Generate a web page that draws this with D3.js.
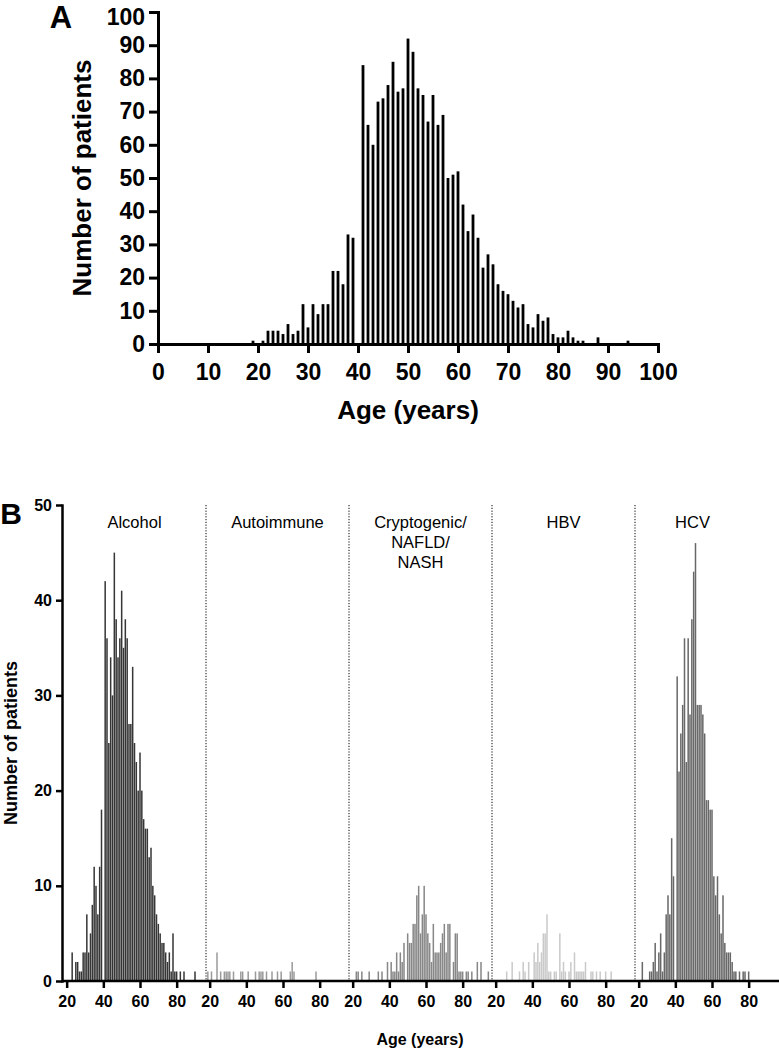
<!DOCTYPE html>
<html><head><meta charset="utf-8">
<script src="https://cdn.jsdelivr.net/npm/d3@7"></script>
<style>
body{margin:0;background:#fff}
svg text{font-family:Arial,"Liberation Sans",sans-serif}
</style>
</head><body>
<svg id="c" width="779" height="1050"></svg>
<script>
// ---------- Panel A data ----------
const ageTicksA = [0,10,20,30,40,50,60,70,80,90,100];
const countTicksA = [0,10,20,30,40,50,60,70,80,90,100];
const ageA = [19,21,22,23,24,25,26,27,28,29,30,31,32,33,34,35,36,37,38,39,
  41,42,43,44,45,46,47,48,49,50,51,52,53,54,55,56,57,58,59,60,
  61,62,63,64,65,66,67,68,69,70,71,72,73,74,75,76,77,78,79,80,
  81,82,83,84,85,88,94];
const countA = [1,1,4,4,4,3,6,3,4,12,5,12,9,12,12,22,22,18,33,32,
  84,66,60,73,74,78,85,76,77,92,88,77,75,67,75,66,69,50,51,52,
  42,34,39,32,23,27,24,18,16,15,13,11,12,6,5,9,7,8,3,2,
  2,4,2,1,1,2,1];

// ---------- Panel B data ----------
const sections = ["Alcohol","Autoimmune","Cryptogenic/NAFLD/NASH","HBV","HCV"];
const sectionLabels = [["Alcohol"],["Autoimmune"],["Cryptogenic/","NAFLD/","NASH"],["HBV"],["HCV"]];
const ageTicksB = [20,40,60,80];
const countTicksB = [0,10,20,30,40,50];

const alcoholAge = [23,25,26,27,28,29,30,31,32,33,34,35,36,37,38,39,
  41,42,43,44,45,46,47,48,49,50,51,52,53,54,55,56,57,58,59,60,
  61,62,63,64,65,66,67,68,69,70,71,72,73,74,75,76,77,78,79,80,82,84,90];
const alcoholCount = [3,2,2,1,1,3,3,7,3,5,8,12,10,7,12,18,
  42,36,25,34,30,45,38,34,36,41,35,38,36,27,27,33,25,23,20,24,
  20,17,16,16,13,14,10,9,7,6,5,4,4,3,2,3,1,5,1,1,1,1,1];

const autoimmuneAge = [19,21,24,26,28,29,30,31,33,37,38,41,45,47,48,49,51,54,57,59,64,65,66,78];
const autoimmuneCount = [1,1,3,1,1,1,1,1,1,1,1,1,1,1,1,1,1,1,1,1,1,2,1,1];

const cryptoAge = [22,23,25,29,34,36,39,41,42,43,44,45,46,47,48,50,51,52,53,54,55,56,57,58,59,60,
  61,62,63,64,65,66,67,68,69,70,71,72,73,75,76,77,78,79,80,82,83,85,88,90,94];
const cryptoCount = [1,1,1,1,1,1,2,2,1,1,3,1,3,2,4,5,4,4,6,6,9,10,5,7,10,7,
  5,4,2,6,3,3,3,4,5,6,3,6,6,2,5,5,1,1,1,1,1,1,2,2,1];

const hbvAge = [26,29,33,35,36,38,41,42,43,44,45,46,47,48,49,50,52,53,55,56,57,58,60,61,63,64,65,66,67,68,69,72,73,75,77,80,83];
const hbvCount = [1,2,1,2,1,2,3,2,4,2,3,5,5,7,1,1,1,1,5,1,2,1,1,2,3,1,1,1,1,1,2,1,1,1,1,1,1];

const hcvAge = [22,26,27,28,29,30,31,32,33,34,35,36,37,38,39,
  41,42,43,44,45,46,47,48,49,50,51,52,53,54,55,56,57,58,59,60,
  61,62,63,64,65,66,67,68,69,70,71,72,73,75,77,78,80];
const hcvCount = [2,1,1,2,4,1,3,5,1,3,7,9,7,15,11,
  32,22,26,29,36,23,36,28,38,43,46,29,29,29,28,26,19,19,18,18,
  11,9,11,7,5,9,4,3,3,3,2,1,1,1,1,1,1];

const seriesB = [
  {name:"Alcohol", ages:alcoholAge, counts:alcoholCount, color:"#363636"},
  {name:"Autoimmune", ages:autoimmuneAge, counts:autoimmuneCount, color:"#9a9a9a"},
  {name:"Cryptogenic/NAFLD/NASH", ages:cryptoAge, counts:cryptoCount, color:"#878787"},
  {name:"HBV", ages:hbvAge, counts:hbvCount, color:"#c9c9c9"},
  {name:"HCV", ages:hcvAge, counts:hcvCount, color:"#686868"}
];

const svg = d3.select("#c");

function styleAxis(g, sw, fs){
  g.selectAll("path.domain").attr("stroke","#000").attr("stroke-width",sw).attr("stroke-linecap","square");
  g.selectAll(".tick line").attr("stroke","#000").attr("stroke-width",sw);
  g.selectAll(".tick text").attr("fill","#000").attr("font-size",fs).attr("font-weight","bold")
    .attr("font-family",'Arial,"Liberation Sans",sans-serif');
}

// ---------- Panel A ----------
const xA = d3.scaleLinear().domain([0,100]).range([158,658]);
const yA = d3.scaleLinear().domain([0,100]).range([344,12]);
const barWA = 2.8;
svg.append("g").selectAll("rect")
  .data(ageA.map((a,i)=>({age:a,count:countA[i]})))
  .join("rect")
  .attr("x",d=>xA(d.age)-barWA/2)
  .attr("y",d=>yA(d.count))
  .attr("width",barWA)
  .attr("height",d=>yA(0)-yA(d.count))
  .attr("fill","#000");

const gAx = svg.append("g").attr("transform",`translate(0,${yA(0)})`)
  .call(d3.axisBottom(xA).tickValues(ageTicksA).tickSize(9).tickSizeOuter(0).tickPadding(11));
styleAxis(gAx,3,23);
const gAy = svg.append("g").attr("transform",`translate(${xA(0)},0)`)
  .call(d3.axisLeft(yA).tickValues(countTicksA).tickSize(9).tickSizeOuter(0).tickPadding(4));
styleAxis(gAy,3,23);
// keep the top label inside the page
gAy.selectAll(".tick text").filter(d=>d===100).attr("dy","0.55em");

svg.append("text").attr("x",61).attr("y",28).attr("text-anchor","middle")
  .attr("font-size",31).attr("font-weight","bold").text("A");
svg.append("text").attr("transform",`translate(91,${yA(50)}) rotate(-90)`)
  .attr("text-anchor","middle").attr("font-size",26).attr("font-weight","bold").text("Number of patients");
svg.append("text").attr("x",xA(50)).attr("y",419).attr("text-anchor","middle")
  .attr("font-size",26).attr("font-weight","bold").text("Age (years)");

// ---------- Panel B ----------
const xSec = d3.scaleBand().domain(sections).range([63,778]).paddingInner(0).paddingOuter(0);
const xAge = d3.scaleLinear().domain([18,96]).range([0,xSec.bandwidth()]);
const yB = d3.scaleLinear().domain([0,50]).range([981,505]);
const barWB = 1.5;

seriesB.forEach(s=>{
  const g = svg.append("g").attr("transform",`translate(${xSec(s.name)},0)`);
  g.selectAll("rect").data(s.ages.map((a,i)=>({age:a,count:s.counts[i]})))
    .join("rect")
    .attr("x",d=>xAge(d.age)-barWB/2)
    .attr("y",d=>yB(d.count))
    .attr("width",barWB)
    .attr("height",d=>yB(0)-yB(d.count))
    .attr("fill",s.color);
});

// dotted separators
svg.append("g").selectAll("line").data(sections.slice(1)).join("line")
  .attr("x1",d=>xSec(d)).attr("x2",d=>xSec(d))
  .attr("y1",yB(50)).attr("y2",yB(0))
  .attr("stroke","#000").attr("stroke-width",1).attr("stroke-dasharray","1.2,1.6");

// section labels
sections.forEach((name,i)=>{
  const cx = xSec(name)+xSec.bandwidth()/2 + (name==="HCV"?-14:0);
  const t = svg.append("text").attr("text-anchor","middle").attr("font-size",16.5).attr("fill","#000");
  sectionLabels[i].forEach((line,j)=>{
    t.append("tspan").attr("x",cx).attr("y",528+j*20).text(line);
  });
});

// x axis B
svg.append("line").attr("x1",62).attr("x2",779).attr("y1",yB(0)).attr("y2",yB(0))
  .attr("stroke","#000").attr("stroke-width",2.5);
sections.forEach(name=>{
  const g = svg.append("g").attr("transform",`translate(${xSec(name)},${yB(0)})`)
    .call(d3.axisBottom(xAge).tickValues(ageTicksB).tickSize(7).tickSizeOuter(0).tickPadding(8));
  g.select("path.domain").remove();
  styleAxis(g,2.5,16);
});
// y axis B
const gBy = svg.append("g").attr("transform",`translate(62,0)`)
  .call(d3.axisLeft(yB).tickValues(countTicksB).tickSize(6).tickSizeOuter(0).tickPadding(4));
styleAxis(gBy,2.5,16);

svg.append("text").attr("x",11).attr("y",524).attr("text-anchor","middle")
  .attr("font-size",30).attr("font-weight","bold").text("B");
svg.append("text").attr("transform",`translate(17,${yB(25)}) rotate(-90)`)
  .attr("text-anchor","middle").attr("font-size",18).attr("font-weight","bold").text("Number of patients");
svg.append("text").attr("x",420).attr("y",1045).attr("text-anchor","middle")
  .attr("font-size",16).attr("font-weight","bold").text("Age (years)");
</script>
</body></html>
